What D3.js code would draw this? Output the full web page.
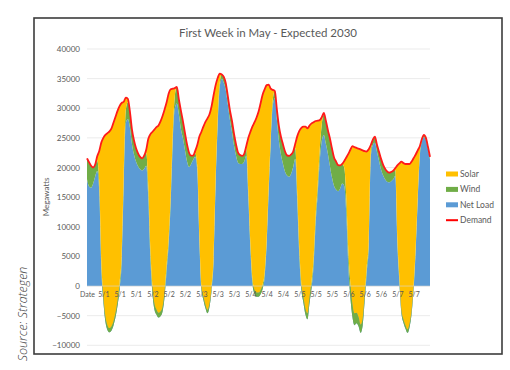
<!DOCTYPE html>
<html>
<head>
<meta charset="utf-8">
<script src="https://cdn.jsdelivr.net/npm/d3@7"></script>
<style>
  body { margin: 0; background: #fff; }
  svg text { font-family: Lato, 'Open Sans', sans-serif; }
</style>
</head>
<body>
<svg id="chart" width="510" height="370"></svg>
<script>
// Hourly values, 5/1 00:00 .. 5/8 00:00 (169 points)
const demand = [
  21550,20900,20300,20000,20500,21900,22800,24200,25000,25500,25800,26100,26600,27600,28600,29600,30400,30900,31100,31800,31600,29500,26500,24600,
  23300,22400,21800,21550,22000,23000,24800,25600,26000,26400,26800,27100,27800,28700,29800,31000,32500,33200,33300,33400,33600,31500,29600,27800,
  25800,23900,22500,22000,22000,22800,23800,25200,26000,26900,27700,28300,29000,30300,32200,33900,35100,35850,35700,35300,34200,32000,29700,27900,
  25700,23900,22500,22100,21950,22300,23600,25000,26000,26900,27600,28400,29400,30800,32300,33200,33900,34000,33300,33100,32900,29800,27000,25200,
  23900,22700,22050,21950,22200,22700,24000,25300,26200,26700,26900,26900,26600,27100,27450,27650,27850,27900,28000,28500,29200,27900,26300,24900,
  23200,21700,21000,20400,20350,20600,21100,21700,22300,23000,23600,23450,23300,23200,23050,22900,22750,22700,23100,23800,24700,25200,23900,22700,
  21500,20500,19800,19350,19130,19250,19450,19900,20350,20700,20980,20750,20590,20590,20590,21000,21600,22200,22900,23600,24800,25500,25000,23500,
  21800
];

const wind = [
  3550,4100,3700,2700,2000,1800,1500,1200,1000,900,800,700,700,700,800,900,1000,1200,1500,2200,2800,2700,2500,2400,
  2300,2200,2100,2050,2200,2200,2000,1500,1200,1000,900,800,800,800,900,1000,1000,1200,1500,2000,2800,2500,3100,2900,
  2900,2900,2400,1400,700,600,800,700,600,600,600,600,600,600,700,700,800,800,700,1000,1200,1400,1700,1900,
  2000,1900,1700,1500,1350,1300,1200,1000,900,800,700,700,700,700,700,700,700,800,900,1000,1200,1800,2500,3000,
  3300,3400,3400,3500,3200,2600,1800,1500,1200,1000,1000,1000,1000,1000,1100,1200,1300,1500,2000,2800,3500,3900,4000,4700,
  4900,4800,4700,4400,3900,3300,3100,2800,2600,2400,2200,2000,1800,1600,1400,1200,1000,900,900,900,900,1000,1200,1500,
  1800,1800,1800,1750,1630,1550,1450,1000,900,800,600,600,600,600,600,600,600,500,500,500,400,400,400,400,
  400
];

const solar = [
  0,0,0,0,0,700,5300,20000,26500,30600,32400,33200,33400,33500,33000,31900,29900,25700,12600,2100,600,0,0,0,
  0,0,0,0,0,500,7800,19100,25800,29300,30700,31600,32100,32200,30700,27500,24500,18000,7800,1400,0,0,0,0,
  0,0,0,0,0,400,3500,16500,25900,28600,30800,32300,31900,30500,27500,16200,7300,1550,0,0,0,0,0,0,
  0,0,0,0,0,0,400,9000,18600,25600,28200,29500,30500,31500,32100,31000,26200,17200,8400,1600,0,0,0,0,
  0,0,0,0,0,0,700,9800,20000,26300,28700,30700,31200,28900,26650,22950,16050,10900,5000,1200,200,0,0,0,
  0,0,0,0,0,0,1100,6700,16300,22500,26600,28050,27800,28400,29550,28400,24250,19700,15600,1300,0,0,0,0,
  0,0,0,0,0,0,0,300,12350,19200,24980,26350,27190,27890,26890,25000,21300,15700,7900,1300,100,0,0,0,
  0
];

// Axis ticks
const yTicks = [-10000, -5000, 0, 5000, 10000, 15000, 20000, 25000, 30000, 35000, 40000];
const xTickHours = [0, 8, 16, 24, 32, 40, 48, 56, 64, 72, 80, 88, 96, 104, 112, 120, 128, 136, 144, 152, 160];
const xTickLabels = ['Date', '5/1', '5/1', '5/1', '5/2', '5/2', '5/2', '5/3', '5/3', '5/3', '5/4', '5/4', '5/4',
  '5/5', '5/5', '5/5', '5/6', '5/6', '5/6', '5/7', '5/7'];

const legendItems = [
  { name: 'Solar', color: '#ffc000', type: 'area' },
  { name: 'Wind', color: '#70ad47', type: 'area' },
  { name: 'Net Load', color: '#5b9bd5', type: 'area' },
  { name: 'Demand', color: '#ff0000', type: 'line' }
];

// Rows for the stacked areas: net load at the bottom, then wind, then solar
const rows = demand.map((d, i) => ({
  hour: i,
  netLoad: d - wind[i] - solar[i],
  wind: wind[i],
  solar: solar[i],
  demand: d
}));

const svg = d3.select('#chart');

// Outer frame
svg.append('rect')
  .attr('x', 34).attr('y', 18)
  .attr('width', 468).attr('height', 336)
  .attr('fill', 'none')
  .attr('stroke', '#3c3c3c')
  .attr('stroke-width', 1.6);

const x = d3.scaleLinear().domain([0, 168]).range([87, 430]);
const y = d3.scaleLinear().domain([-10000, 40000]).range([345.3, 49]);

// Gridlines
svg.append('g')
  .selectAll('line')
  .data(yTicks)
  .enter().append('line')
  .attr('x1', x(0)).attr('x2', x(168))
  .attr('y1', d => y(d)).attr('y2', d => y(d))
  .attr('stroke', '#ebebeb')
  .attr('stroke-width', 1);

// Stacked areas (Excel style: cumulative, no diverging offset)
const stack = d3.stack()
  .keys(['netLoad', 'wind', 'solar'])
  .offset(d3.stackOffsetNone);
const series = stack(rows);

const colors = { netLoad: '#5b9bd5', wind: '#70ad47', solar: '#ffc000' };

const area = d3.area()
  .x(d => x(d.data.hour))
  .y0(d => y(d[0]))
  .y1(d => y(d[1]))
  .curve(d3.curveMonotoneX);

svg.append('g')
  .selectAll('path')
  .data(series)
  .enter().append('path')
  .attr('d', area)
  .attr('fill', d => colors[d.key]);

// Faint horizontal axis line at zero
svg.append('line')
  .attr('x1', x(0)).attr('x2', x(168))
  .attr('y1', y(0)).attr('y2', y(0))
  .attr('stroke', '#d9d9d9')
  .attr('stroke-opacity', 0.6);

// Demand line
const line = d3.line()
  .x(d => x(d.hour))
  .y(d => y(d.demand))
  .curve(d3.curveMonotoneX);

svg.append('path')
  .datum(rows)
  .attr('d', line)
  .attr('fill', 'none')
  .attr('stroke', '#ff1a1a')
  .attr('stroke-width', 1.8)
  .attr('stroke-linejoin', 'round');

// Y axis
const yAxis = svg.append('g')
  .attr('transform', `translate(${x(0)},0)`)
  .call(d3.axisLeft(y).tickValues(yTicks).tickSize(0).tickPadding(7).tickFormat(d3.format('d')));
yAxis.select('.domain').remove();
yAxis.selectAll('text')
  .attr('fill', '#595959')
  .style('font-size', '8px');

// X axis labels sit on the zero line
const xAxis = svg.append('g')
  .attr('transform', `translate(0,${y(0)})`)
  .call(d3.axisBottom(x).tickValues(xTickHours).tickSize(0).tickPadding(6)
    .tickFormat((d, i) => xTickLabels[i]));
xAxis.select('.domain').remove();
xAxis.selectAll('text')
  .attr('fill', '#595959')
  .style('font-size', '7px');

// Title
svg.append('text')
  .attr('x', 268).attr('y', 37)
  .attr('text-anchor', 'middle')
  .attr('fill', '#595959')
  .style('font-size', '11.5px')
  .text('First Week in May - Expected 2030');

// Y axis title
svg.append('text')
  .attr('transform', 'translate(49,197) rotate(-90)')
  .attr('text-anchor', 'middle')
  .attr('fill', '#595959')
  .style('font-size', '8px')
  .text('Megawatts');

// Legend
const legend = svg.append('g')
  .selectAll('g')
  .data(legendItems)
  .enter().append('g')
  .attr('transform', (d, i) => `translate(446,${174 + i * 15.4})`);

legend.append('rect')
  .attr('x', 0).attr('y', d => d.type === 'area' ? -2.5 : -1)
  .attr('width', 12)
  .attr('height', d => d.type === 'area' ? 5 : 2)
  .attr('fill', d => d.color);

legend.append('text')
  .attr('x', 14).attr('dy', '0.35em')
  .attr('fill', '#595959')
  .style('font-size', '8.5px')
  .text(d => d.name);

// Source note outside the frame
svg.append('text')
  .attr('transform', 'translate(27,314) rotate(-90)')
  .attr('text-anchor', 'middle')
  .attr('fill', '#404040')
  .style('font-family', "'Open Sans', sans-serif")
  .style('font-style', 'italic')
  .style('font-weight', 300)
  .style('font-size', '12.5px')
  .text('Source: Strategen');
</script>
</body>
</html>
